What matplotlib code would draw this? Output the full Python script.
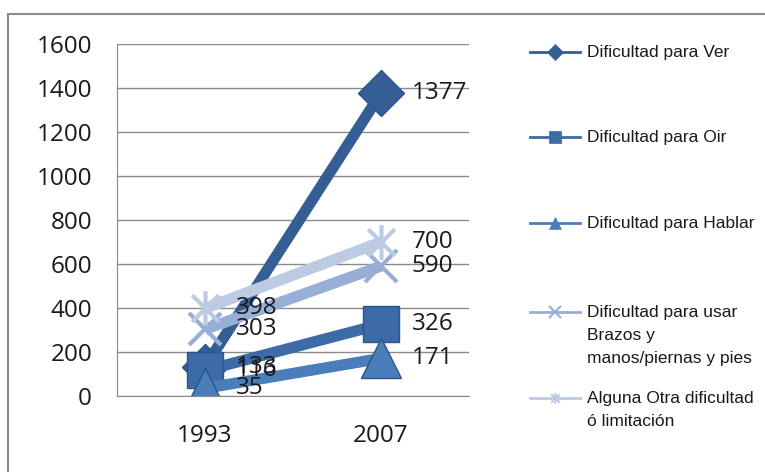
import matplotlib.pyplot as plt
from matplotlib.lines import Line2D
from matplotlib.patches import Rectangle
from matplotlib.path import Path

# datos
anios = ["1993", "2007"]
ver = [133, 1377]
oir = [116, 326]
hablar = [35, 171]
brazos = [303, 590]
otra = [398, 700]

nombres = ["Dificultad para Ver", "Dificultad para Oir", "Dificultad para Hablar",
           "Dificultad para usar\nBrazos y\nmanos/piernas y pies",
           "Alguna Otra dificultad\nó limitación"]
series = [ver, oir, hablar, brazos, otra]

# estrella tipo Excel (x + linea vertical)
estrella = Path([(-1, -1), (1, 1), (-1, 1), (1, -1), (0, -1.3), (0, 1.3)],
                [Path.MOVETO, Path.LINETO, Path.MOVETO, Path.LINETO, Path.MOVETO, Path.LINETO])

colores = ["#355f94", "#3c6ba7", "#4a7ebb", "#97afd5", "#bccbe3"]
marcadores = ["D", "s", "^", "x", estrella]
tam = [23, 26, 29, 23, 25]

fig = plt.figure(figsize=(7.65, 4.72), dpi=100)
fig.patches.append(Rectangle((8 / 765, -0.05), 1.0, (472 - 14) / 472 + 0.05,
                             transform=fig.transFigure, fill=False,
                             edgecolor="#8c8c8c", linewidth=1.5))

ax = fig.add_axes([117 / 765, 76 / 472, 352 / 765, 352 / 472])
x = [0, 1]
for vals, c, m, s in zip(series, colores, marcadores, tam):
    cruz = (m == "x") or (m is estrella)
    ax.plot(x, vals, color=c, lw=8, marker=m, markersize=s,
            markerfacecolor=c, markeredgecolor=c if cruz else "#2c5487",
            markeredgewidth=3 if cruz else 1, solid_capstyle="butt")
    for xi, v in zip(x, vals):
        ax.annotate(str(v), (xi, v), xytext=(22, 0), textcoords="offset points",
                    ha="left", va="center", fontsize=17.5, family="Open Sans",
                    color="#1a1a1a")

ax.set_xlim(-0.5, 1.5)
ax.set_ylim(0, 1600)
ax.set_yticks(range(0, 1601, 200))
ax.set_xticks(x)
ax.set_xticklabels(anios)
ax.grid(axis="y", color="#8a8a8a", lw=1)
ax.set_axisbelow(True)
for sp in ["top", "right"]:
    ax.spines[sp].set_visible(False)
ax.spines["left"].set_color("#8a8a8a")
ax.spines["bottom"].set_color("#8a8a8a")
ax.tick_params(length=0, labelsize=17.5, colors="#1a1a1a", pad=20)
ax.tick_params(axis="y", pad=18)
for lab in ax.get_xticklabels() + ax.get_yticklabels():
    lab.set_family("Open Sans")

# leyenda manual
y_ley = [52, 137, 223, 312, 398]
for nombre, c, m, yy in zip(nombres, colores, marcadores, y_ley):
    yf = 1 - yy / 472
    cruz = (m == "x") or (m is estrella)
    fig.add_artist(Line2D([530 / 765, 580 / 765], [yf, yf], transform=fig.transFigure,
                          color=c, lw=2))
    fig.add_artist(Line2D([555 / 765], [yf], transform=fig.transFigure, color=c,
                          marker=m, markersize=8, markeredgewidth=1.5 if cruz else 0.5,
                          markeredgecolor=c))
    fig.text(587 / 765, yf + 7 / 472, nombre, ha="left", va="top", fontsize=12.5,
             family="Liberation Sans", color="#1a1a1a", linespacing=1.65)

fig.savefig("out.png", dpi=100)
